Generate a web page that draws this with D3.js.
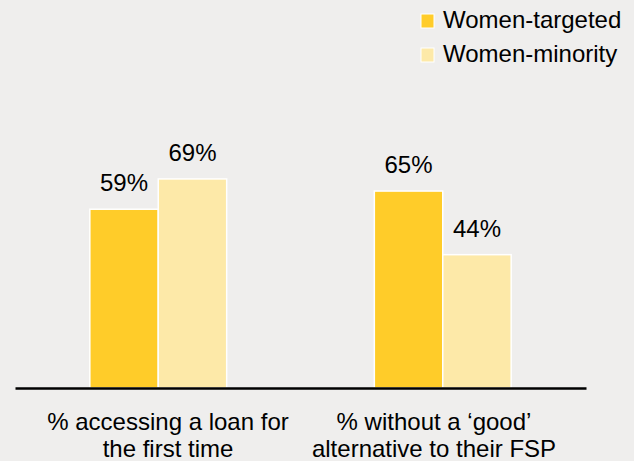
<!DOCTYPE html>
<html>
<head>
<meta charset="utf-8">
<script src="https://cdn.jsdelivr.net/npm/d3@7"></script>
<style>
  html, body { margin: 0; padding: 0; background: #efeeed; }
  svg { display: block; }
  text { font-family: "Liberation Sans", Arial, Helvetica, sans-serif; fill: #000; }
</style>
</head>
<body>
<svg id="chart" width="634" height="461"></svg>
<script>
const categories = ["% accessing a loan for the first time", "% without a \u2018good\u2019 alternative to their FSP"];
const categoryLines = [["% accessing a loan for", "the first time"], ["% without a \u2018good\u2019", "alternative to their FSP"]];
const seriesNames = ["Women-targeted", "Women-minority"];
const womenTargeted = [59, 65];
const womenMinority = [69, 44];
const colors = ["#ffcc29", "#fde9a8"];

const W = 634, H = 461;
const svg = d3.select("#chart");
svg.append("rect").attr("width", W).attr("height", H).attr("fill", "#efeeed");

const baseY = 388;
const y = d3.scaleLinear().domain([0, 100]).range([baseY, baseY - 303]);

const x0 = d3.scaleBand().domain(categories).range([15, 586]).paddingInner(0.519).paddingOuter(0.263);
const x1 = d3.scaleBand().domain(seriesNames).range([0, x0.bandwidth()]).padding(0);
const xLabel = d3.scalePoint().domain(categories).range([168, 434]);

const data = categories.map((c, i) => ({
  cat: c,
  values: [
    { s: seriesNames[0], v: womenTargeted[i] },
    { s: seriesNames[1], v: womenMinority[i] }
  ]
}));

const color = d3.scaleOrdinal().domain(seriesNames).range(colors);

const groups = svg.append("g").selectAll("g").data(data).join("g")
  .attr("transform", d => `translate(${x0(d.cat)},0)`);

groups.selectAll("rect").data(d => d.values).join("rect")
  .attr("x", d => x1(d.s))
  .attr("y", d => y(d.v))
  .attr("width", x1.bandwidth())
  .attr("height", d => y(0) - y(d.v))
  .attr("fill", d => color(d.s))
  .attr("stroke", "#ffffff")
  .attr("stroke-width", 1.5);

groups.selectAll("text.val").data(d => d.values).join("text")
  .attr("class", "val")
  .attr("x", d => x1(d.s) + x1.bandwidth() / 2)
  .attr("y", d => y(d.v) - 18)
  .attr("text-anchor", "middle")
  .attr("font-size", 24)
  .text(d => d.v + "%");

// baseline axis
const xAxis = d3.axisBottom(x0).tickSize(0).tickFormat("");
const axisG = svg.append("g").attr("transform", `translate(0,${baseY})`).call(xAxis);
axisG.select(".domain").attr("stroke", "#000").attr("stroke-width", 2.5);

// category labels
const labG = svg.append("g");
categories.forEach((c, i) => {
  const t = labG.append("text")
    .attr("x", xLabel(c))
    .attr("y", 430)
    .attr("text-anchor", "middle")
    .attr("font-size", 24);
  categoryLines[i].forEach((ln, j) => {
    t.append("tspan").attr("x", xLabel(c)).attr("dy", j === 0 ? 0 : 27).text(ln);
  });
});

// legend
const leg = svg.append("g");
seriesNames.forEach((s, i) => {
  const gy = 28 + i * 34;
  leg.append("rect")
    .attr("x", 421).attr("y", gy - 14)
    .attr("width", 13).attr("height", 14)
    .attr("fill", color(s))
    .attr("stroke", "#ffffff").attr("stroke-width", 1);
  leg.append("text")
    .attr("x", 443).attr("y", gy)
    .attr("font-size", 24)
    .text(s);
});
</script>
</body>
</html>
